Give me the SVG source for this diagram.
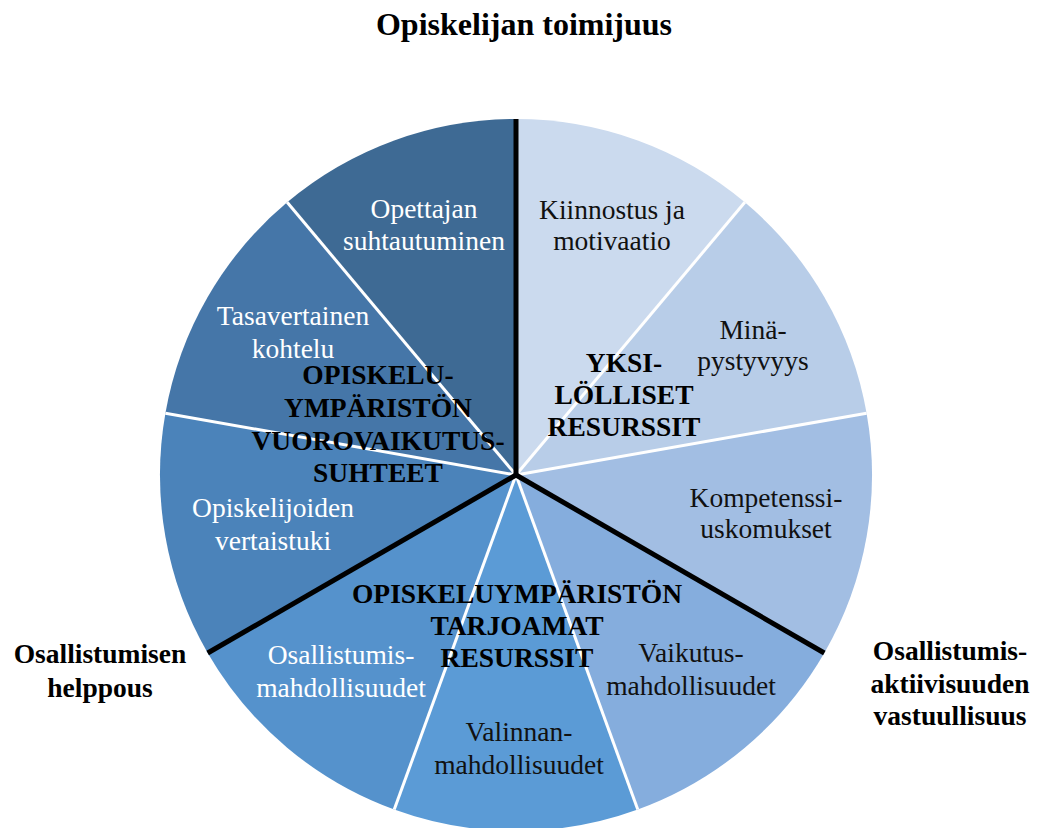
<svg xmlns="http://www.w3.org/2000/svg" width="1038" height="828" viewBox="0 0 1038 828" font-family="'Liberation Serif', 'DejaVu Serif', serif">
  <style>
    text { font-family: 'Liberation Serif', 'DejaVu Serif', serif; text-anchor: middle; }
    .lbl { font-size: 27.5px; }
    .dark { fill: #111111; }
    .light { fill: #ffffff; }
    .head { font-size: 27.5px; font-weight: bold; fill: #000000; }
    .title { font-size: 32px; font-weight: bold; fill: #000000; }
    .sep { stroke: #ffffff; stroke-width: 3; fill: none; }
    .axis { stroke: #000000; stroke-width: 5; fill: none; stroke-linecap: butt; }
  </style>

  <rect width="1038" height="828" fill="#ffffff"/>

  <text class="title" x="524" y="35">Opiskelijan toimijuus</text>

  <!-- Pie: centre (516,475), radius 356, nine 40° sectors clockwise from the top -->
  <g id="kiinnostus">
    <path d="M516,475 L516,119 A356,356 0 0 1 744.83,202.29 Z" fill="#cbdaee"/>
    <text class="lbl dark" x="612" y="219">Kiinnostus ja</text>
    <text class="lbl dark" x="612" y="250">motivaatio</text>
  </g>
  <g id="minapystyvyys">
    <path d="M516,475 L744.83,202.29 A356,356 0 0 1 866.59,413.18 Z" fill="#b8cde8"/>
    <text class="lbl dark" x="753" y="339">Minä-</text>
    <text class="lbl dark" x="753" y="370">pystyvyys</text>
  </g>
  <g id="kompetenssi">
    <path d="M516,475 L866.59,413.18 A356,356 0 0 1 824.30,653 Z" fill="#a2bee3"/>
    <text class="lbl dark" x="766" y="507">Kompetenssi-</text>
    <text class="lbl dark" x="766" y="538">uskomukset</text>
  </g>
  <g id="vaikutus">
    <path d="M516,475 L824.30,653 A356,356 0 0 1 637.76,809.53 Z" fill="#85addd"/>
    <text class="lbl dark" x="691" y="662">Vaikutus-</text>
    <text class="lbl dark" x="691" y="695">mahdollisuudet</text>
  </g>
  <g id="valinnan">
    <path d="M516,475 L637.76,809.53 A356,356 0 0 1 394.24,809.53 Z" fill="#5b9bd6"/>
    <text class="lbl dark" x="519" y="741">Valinnan-</text>
    <text class="lbl dark" x="519" y="774">mahdollisuudet</text>
  </g>
  <g id="osallistumis">
    <path d="M516,475 L394.24,809.53 A356,356 0 0 1 207.70,653 Z" fill="#5592cc"/>
    <text class="lbl light" x="341" y="664">Osallistumis-</text>
    <text class="lbl light" x="341" y="697">mahdollisuudet</text>
  </g>
  <g id="vertaistuki">
    <path d="M516,475 L207.70,653 A356,356 0 0 1 165.41,413.18 Z" fill="#4b83ba"/>
    <text class="lbl light" x="273" y="517">Opiskelijoiden</text>
    <text class="lbl light" x="273" y="550">vertaistuki</text>
  </g>
  <g id="tasavertainen">
    <path d="M516,475 L165.41,413.18 A356,356 0 0 1 287.17,202.29 Z" fill="#4576a8"/>
    <text class="lbl light" x="293" y="325">Tasavertainen</text>
    <text class="lbl light" x="293" y="358">kohtelu</text>
  </g>
  <g id="opettajan">
    <path d="M516,475 L287.17,202.29 A356,356 0 0 1 516,119 Z" fill="#3e6a94"/>
    <text class="lbl light" x="424" y="218">Opettajan</text>
    <text class="lbl light" x="424" y="250">suhtautuminen</text>
  </g>

  <!-- Sector dividers and the three black axes between the resource groups -->
  <g id="connectors">
    <line class="sep" x1="516" y1="475" x2="744.83" y2="202.29"/>
    <line class="sep" x1="516" y1="475" x2="866.59" y2="413.18"/>
    <line class="sep" x1="516" y1="475" x2="637.76" y2="809.53"/>
    <line class="sep" x1="516" y1="475" x2="394.24" y2="809.53"/>
    <line class="sep" x1="516" y1="475" x2="165.41" y2="413.18"/>
    <line class="sep" x1="516" y1="475" x2="287.17" y2="202.29"/>
    <line class="axis" x1="516" y1="475" x2="516" y2="119"/>
    <line class="axis" x1="516" y1="475" x2="824.30" y2="653"/>
    <line class="axis" x1="516" y1="475" x2="207.70" y2="653"/>
  </g>

  <!-- Group headings -->
  <g id="yksilolliset">
    <text class="head" x="624" y="372">YKSI-</text>
    <text class="head" x="624" y="404">LÖLLISET</text>
    <text class="head" x="624" y="436">RESURSSIT</text>
  </g>
  <g id="vuorovaikutus">
    <text class="head" x="378" y="384">OPISKELU-</text>
    <text class="head" x="378" y="417">YMPÄRISTÖN</text>
    <text class="head" x="378" y="450">VUOROVAIKUTUS-</text>
    <text class="head" x="378" y="482">SUHTEET</text>
  </g>
  <g id="tarjoamat">
    <text class="head" x="517" y="603">OPISKELUYMPÄRISTÖN</text>
    <text class="head" x="517" y="635">TARJOAMAT</text>
    <text class="head" x="517" y="667">RESURSSIT</text>
  </g>

  <!-- Axis end labels -->
  <g id="helppous">
    <text class="head" x="100" y="663">Osallistumisen</text>
    <text class="head" x="100" y="697">helppous</text>
  </g>
  <g id="vastuullisuus">
    <text class="head" x="950" y="660">Osallistumis-</text>
    <text class="head" x="950" y="693">aktiivisuuden</text>
    <text class="head" x="950" y="725">vastuullisuus</text>
  </g>
</svg>
